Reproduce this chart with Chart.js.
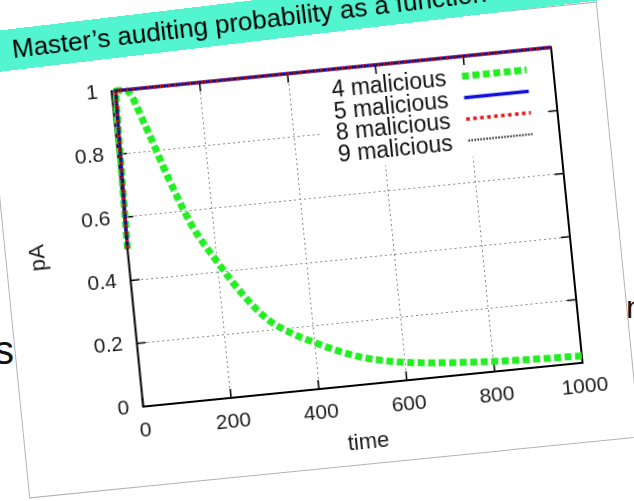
<!DOCTYPE html>
<html>
<head>
<meta charset="utf-8">
<script src="https://cdn.jsdelivr.net/npm/chart.js@4.4.1/dist/chart.umd.min.js"></script>
<style>
  html, body { margin: 0; padding: 0; background: #fff; }
  body { width: 634px; height: 501px; position: relative; overflow: hidden; font-family: "Liberation Sans", Arial, sans-serif; }
  .slide { position: absolute; color: #111; white-space: nowrap; }
  #card { position: absolute; left: 6.5px; top: 32px; width: 612px; height: 436px; background: #fff;
          outline: 1.5px solid #b3b3b3; transform: rotate(-5.7deg); }
  #card canvas { position: absolute; left: 0; top: 0; }
  #banner { position: absolute; left: -30px; top: 33.6px; width: 760px; height: 41px; background: #52f5cf;
            transform-origin: 0 0; transform: rotate(-6.8deg); font-size: 26px; line-height: 41px;
            padding-left: 40px; box-sizing: border-box; color: #000; white-space: nowrap; }
</style>
</head>
<body>
<div class="slide" style="left:8px; top:-31px; font-size:32px; font-weight:bold;">can be:</div>
<div class="slide" style="left:-6px; top:330px; font-size:40px; line-height:40px;">s</div>
<div class="slide" style="left:626px; top:291px; font-size:32px; line-height:32px;">n</div>
<div id="card"><canvas id="chart_pA" width="612" height="436"></canvas></div>
<div id="banner">Master’s auditing probability as a function</div>
<script>
const X_TICKS = [0, 200, 400, 600, 800, 1000];
const Y_TICKS = [0, 0.2, 0.4, 0.6, 0.8, 1];
const SERIES_NAMES = ['4 malicious', '5 malicious', '8 malicious', '9 malicious'];

const TIME_4 = [0, 10, 35, 67, 108, 150, 200, 250, 300, 350, 400, 450, 500, 550, 600, 700, 800, 900, 1000];
const PA_4 = [0.5, 1, 0.995, 0.885, 0.71, 0.555, 0.43, 0.32, 0.235, 0.185, 0.148, 0.115, 0.088, 0.07, 0.057, 0.042, 0.032, 0.026, 0.022];

const TIME_5 = [0, 9, 1000];
const PA_5 = [0.5, 1, 1];
const TIME_8 = [0, 9, 1000];
const PA_8 = [0.5, 1, 1];
const TIME_9 = [0, 9, 1000];
const PA_9 = [0.5, 1, 1];

const FONT = '"Liberation Sans", Arial, sans-serif';

function points(xs, ys) {
  return xs.map((x, i) => ({ x: x, y: ys[i] }));
}

// gnuplot look: full frame, inward ticks, opaque key box top right
const gnuplotFrame = {
  id: 'gnuplotFrame',
  beforeDatasetsDraw(chart) {
    const { ctx, chartArea: a, scales: { x, y } } = chart;
    ctx.save();
    ctx.fillStyle = '#fff';
    ctx.fillRect(a.left + 205, a.top + 5, 227, 96);
    ctx.strokeStyle = '#000';
    ctx.lineWidth = 2;
    ctx.strokeRect(a.left, a.top, a.width, a.height);
    ctx.lineWidth = 1.5;
    ctx.beginPath();
    X_TICKS.forEach(v => {
      const px = x.getPixelForValue(v);
      ctx.moveTo(px, a.bottom); ctx.lineTo(px, a.bottom - 9);
      ctx.moveTo(px, a.top); ctx.lineTo(px, a.top + 9);
    });
    Y_TICKS.forEach(v => {
      const py = y.getPixelForValue(v);
      ctx.moveTo(a.left, py); ctx.lineTo(a.left + 9, py);
      ctx.moveTo(a.right, py); ctx.lineTo(a.right - 9, py);
    });
    ctx.stroke();
    ctx.restore();
  },
  afterDatasetsDraw(chart) {
    const { ctx, chartArea: a } = chart;
    ctx.save();
    ctx.font = '23px ' + FONT;
    ctx.textAlign = 'right';
    ctx.textBaseline = 'middle';
    chart.data.datasets.forEach((ds, i) => {
      const rowY = a.top + 22 + i * 21.5;
      ctx.fillStyle = '#111';
      ctx.fillText(ds.label, a.left + 334, rowY);
      ctx.strokeStyle = ds.borderColor;
      ctx.lineWidth = ds.borderWidth;
      ctx.setLineDash(ds.borderDash || []);
      ctx.beginPath();
      ctx.moveTo(a.left + 350, rowY - 2);
      ctx.lineTo(a.left + 415, rowY - 2);
      ctx.stroke();
    });
    ctx.restore();
  }
};

new Chart(document.getElementById('chart_pA'), {
  type: 'line',
  data: {
    datasets: [
      { label: SERIES_NAMES[0], data: points(TIME_4, PA_4), borderColor: '#22ee22', borderWidth: 7,
        borderDash: [7, 3.5], cubicInterpolationMode: 'monotone', order: 4 },
      { label: SERIES_NAMES[1], data: points(TIME_5, PA_5), borderColor: '#1010e0', borderWidth: 3.5, order: 3 },
      { label: SERIES_NAMES[2], data: points(TIME_8, PA_8), borderColor: '#ee1111', borderWidth: 3.5,
        borderDash: [3.5, 3.5], order: 2 },
      { label: SERIES_NAMES[3], data: points(TIME_9, PA_9), borderColor: '#111111', borderWidth: 2,
        borderDash: [1.5, 1.5], order: 1 }
    ]
  },
  options: {
    responsive: false,
    animation: false,
    layout: { padding: { left: 0, top: 40, right: 49, bottom: 0 } },
    elements: { point: { radius: 0 }, line: { fill: false, borderCapStyle: 'butt' } },
    datasets: { line: { clip: false } },
    plugins: { legend: { display: false }, tooltip: { enabled: false } },
    scales: {
      x: {
        type: 'linear', min: 0, max: 1000,
        afterBuildTicks(s) { s.ticks = X_TICKS.map(v => ({ value: v })); },
        afterFit(s) { s.height = 79; },
        grid: { color: '#8a8a8a', lineWidth: 1, drawTicks: false },
        border: { display: false, dash: [2, 3] },
        ticks: { color: '#1a1a1a', font: { size: 21, family: FONT }, padding: 12, maxRotation: 0,
                 callback: v => String(v) },
        title: { display: true, text: 'time', color: '#1a1a1a', font: { size: 22, family: FONT },
                 padding: { bottom: 8 } }
      },
      y: {
        type: 'linear', min: 0, max: 1,
        afterBuildTicks(s) { s.ticks = Y_TICKS.map(v => ({ value: v })); },
        afterFit(s) { s.width = 121.5; },
        grid: { color: '#8a8a8a', lineWidth: 1, drawTicks: false },
        border: { display: false, dash: [2, 3] },
        ticks: { color: '#1a1a1a', font: { size: 21, family: FONT }, padding: 14,
                 callback: v => String(v) },
        title: { display: true, text: 'pA', color: '#1a1a1a', font: { size: 22, family: FONT },
                 padding: { top: 19 } }
      }
    }
  },
  plugins: [gnuplotFrame]
});
</script>
</body>
</html>
